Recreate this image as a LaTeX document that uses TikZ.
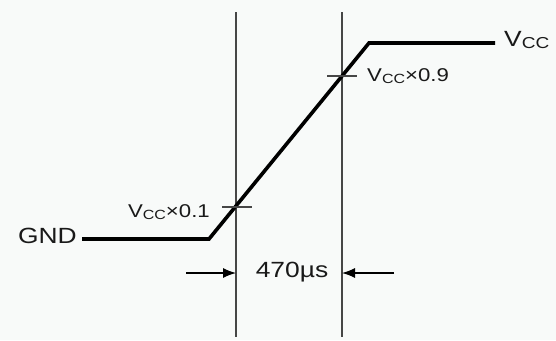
\documentclass[tikz,border=0pt]{standalone}
\usepackage{fontspec}
\setmainfont{Liberation Sans}[FakeStretch=1.2]
\usepackage{tikz}
\usetikzlibrary{arrows.meta, positioning}

\newcommand{\Vcc}{V\raisebox{-0.1em}{\scalebox{0.72}{CC}}}
\definecolor{bgpaper}{RGB}{248,250,249}
\definecolor{guide}{RGB}{70,70,70}

\begin{document}
\begin{tikzpicture}[
    x=1pt, y=-1pt,
    signal/.style={line width=3.6pt, line join=miter},
    guideline/.style={draw=guide, line width=1.1pt},
    tick/.style={draw=guide, line width=1.1pt},
    lbl/.style={inner sep=0pt, text=black!90, font=\fontsize{18.5}{20}\selectfont},
    biglbl/.style={inner sep=0pt, text=black!90, font=\fontsize{22}{24}\selectfont},
    >={Latex[length=13pt, width=10pt]}
]

\fill[bgpaper] (0,0) rectangle (556,340);
\useasboundingbox (0,0) rectangle (556,340);

% guide lines at 10% and 90%
\coordinate (t1top) at (236,12);
\coordinate (t1bot) at (236,337);
\coordinate (t9top) at (342,12);
\coordinate (t9bot) at (342,337);
\draw[guideline] (t1top) -- (t1bot);
\draw[guideline] (t9top) -- (t9bot);

% the rising edge
\coordinate (gndend) at (82,239);
\coordinate (risestart) at (209,239);
\coordinate (riseend) at (369,43);
\coordinate (vccend) at (495,43);
\draw[signal] (gndend) -- (risestart) -- (riseend) -- (vccend);

\node[biglbl, anchor=east] (gnd) at ([xshift=-5pt, yshift=3pt]gndend) {GND};
\node[biglbl, anchor=west] (vcc) at ([xshift=9pt, yshift=3pt]vccend) {\Vcc};

% crossing marks
\coordinate (c1l) at (222,207);
\coordinate (c1r) at (252,207);
\coordinate (c9l) at (327,76);
\coordinate (c9r) at (357,76);
\draw[tick] (c1l) -- (c1r);
\draw[tick] (c9l) -- (c9r);

\node[lbl, anchor=east] (lo) at ([xshift=-12pt, yshift=-5pt]c1l) {\Vcc×0.1};
\node[lbl, anchor=west] (hi) at ([xshift=10pt]c9r) {\Vcc×0.9};

% timing
\node[biglbl] (dt) at (292,272) {470µs};
\coordinate (al) at (186,273);
\coordinate (ar) at (394,273);
\draw[->, line width=1.2pt] (al) -- (al -| t1top);
\draw[->, line width=1.2pt] (ar) -- (ar -| t9top);

\end{tikzpicture}
\end{document}
